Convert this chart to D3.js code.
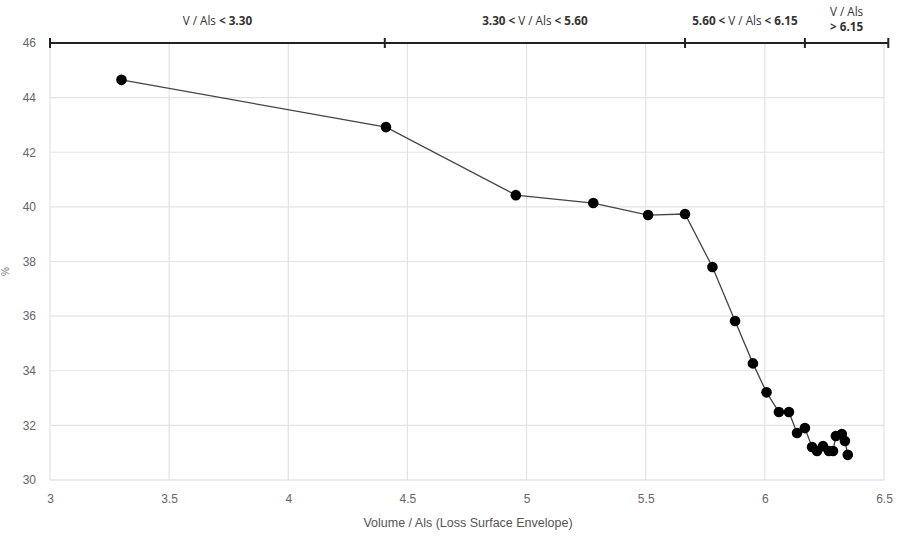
<!DOCTYPE html>
<html>
<head>
<meta charset="utf-8">
<script src="https://cdn.jsdelivr.net/npm/d3@7"></script>
<style>
  html, body { margin: 0; padding: 0; background: #fff; }
  svg { display: block; }
</style>
</head>
<body>
<svg id="chart" width="907" height="545"></svg>
<script>
// Volume / Als against percentage
const volumeRatio = [3.30, 4.41, 4.955, 5.28, 5.51, 5.665, 5.78, 5.875, 5.95, 6.007,
                     6.059, 6.101, 6.135, 6.168, 6.198, 6.219, 6.244, 6.269, 6.286,
                     6.298, 6.323, 6.336, 6.348];
const percent     = [44.65, 42.92, 40.43, 40.14, 39.70, 39.74, 37.80, 35.82, 34.27, 33.21,
                     32.49, 32.49, 31.72, 31.90, 31.21, 31.06, 31.24, 31.06, 31.06,
                     31.61, 31.68, 31.43, 30.92];

const xTicks = [3, 3.5, 4, 4.5, 5, 5.5, 6, 6.5];
const yTicks = [30, 32, 34, 36, 38, 40, 42, 44, 46];

// range bands drawn along the top edge
const bandEdges = [3.0, 4.405, 5.665, 6.168, 6.518];
const bandLabels = [
  [[["V / Als ", false], ["< 3.30", true]]],
  [[["3.30 < ", true], ["V / Als ", false], ["< 5.60", true]]],
  [[["5.60 < ", true], ["V / Als ", false], ["< 6.15", true]]],
  [[["V / Als", false]], [["> 6.15", true]]]
];

const svg = d3.select("#chart");
const margin = { left: 50, right: 23, top: 43, bottom: 65 };
const W = 907, H = 545;

const x = d3.scaleLinear().domain([3, 6.5]).range([margin.left, W - margin.right]);
const y = d3.scaleLinear().domain([30, 46]).range([H - margin.bottom, margin.top]);

// grid
svg.append("g").selectAll("line.v").data(xTicks).join("line")
  .attr("x1", d => x(d)).attr("x2", d => x(d))
  .attr("y1", y(46)).attr("y2", y(30))
  .attr("stroke", "#e3e3e3").attr("stroke-width", 1.2);
svg.append("g").selectAll("line.h").data(yTicks).join("line")
  .attr("x1", x(3)).attr("x2", x(6.5))
  .attr("y1", d => y(d)).attr("y2", d => y(d))
  .attr("stroke", d => d === 30 ? "#dadada" : "#e3e3e3").attr("stroke-width", 1.2);

// axes labels
const xAxis = d3.axisBottom(x).tickValues(xTicks).tickSize(0).tickPadding(14)
  .tickFormat(d3.format("~g"));
const gx = svg.append("g").attr("transform", `translate(0,${y(30)})`).call(xAxis);
gx.select(".domain").remove();
gx.selectAll("text").attr("fill", "#666").style("font", "12px 'Liberation Sans', Arial, sans-serif");

const yAxis = d3.axisLeft(y).tickValues(yTicks).tickSize(0).tickPadding(14);
const gy = svg.append("g").attr("transform", `translate(${x(3)},0)`).call(yAxis);
gy.select(".domain").remove();
gy.selectAll("text").attr("fill", "#666").style("font", "12px 'Liberation Sans', Arial, sans-serif");

svg.append("text")
  .attr("x", 468).attr("y", 527)
  .attr("text-anchor", "middle").attr("fill", "#555")
  .style("font", "12.5px 'Liberation Sans', Arial, sans-serif")
  .text("Volume / Als (Loss Surface Envelope)");

svg.append("text")
  .attr("transform", `translate(9,${y(38) + 10}) rotate(-90)`)
  .attr("text-anchor", "middle").attr("fill", "#777")
  .style("font", "10px 'Liberation Sans', Arial, sans-serif")
  .text("%");

// range bar along the top
const topY = y(46);
svg.append("line")
  .attr("x1", x(bandEdges[0])).attr("x2", x(bandEdges[bandEdges.length - 1]))
  .attr("y1", topY).attr("y2", topY)
  .attr("stroke", "#222").attr("stroke-width", 2);
svg.append("g").selectAll("line").data(bandEdges).join("line")
  .attr("x1", d => x(d)).attr("x2", d => x(d))
  .attr("y1", topY - 5).attr("y2", topY + 5)
  .attr("stroke", "#222").attr("stroke-width", 2);

const labelG = svg.append("g").style("font", "11.7px 'Open Sans', 'Liberation Sans', sans-serif");
bandLabels.forEach((lines, i) => {
  const cx = (x(bandEdges[i]) + x(bandEdges[i + 1])) / 2;
  const baseY = lines.length === 1 ? 25 : 16;
  lines.forEach((parts, j) => {
    const t = labelG.append("text")
      .attr("x", cx).attr("y", baseY + j * 15)
      .attr("text-anchor", "middle").attr("fill", "#333");
    parts.forEach(([s, b]) => {
      t.append("tspan").attr("font-weight", b ? "bold" : "normal").text(s);
    });
  });
});

// series
const pts = volumeRatio.map((v, i) => [v, percent[i]]);
svg.append("path")
  .datum(pts)
  .attr("fill", "none").attr("stroke", "#444").attr("stroke-width", 1.3)
  .attr("d", d3.line().x(d => x(d[0])).y(d => y(d[1])));
svg.append("g").selectAll("circle").data(pts).join("circle")
  .attr("cx", d => x(d[0])).attr("cy", d => y(d[1]))
  .attr("r", 5.3).attr("fill", "#000");
</script>
</body>
</html>
